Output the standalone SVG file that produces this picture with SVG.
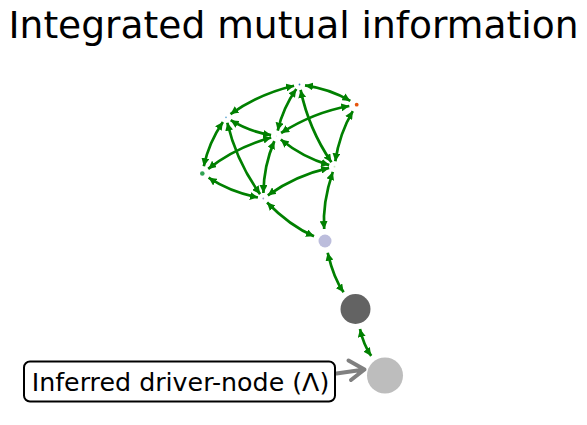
<svg xmlns="http://www.w3.org/2000/svg" width="587" height="425" viewBox="0 0 587 425">
<style>
.e{fill:none;stroke:#008000;stroke-width:2.7;marker-start:url(#ah);marker-end:url(#ah)}
.t{font-family:"DejaVu Sans",sans-serif;fill:#000}
</style>
<defs>
<marker id="ah" markerUnits="userSpaceOnUse" markerWidth="8" markerHeight="8" refX="7.5" refY="3.75" orient="auto-start-reverse" viewBox="0 0 7.5 7.5">
<path d="M0,0 L7.5,3.75 L0,7.5 z" fill="#008000"/>
</marker>
</defs>
<rect width="587" height="425" fill="#fff"/>
<text class="t" x="293.5" y="37.5" font-size="37.6" text-anchor="middle">Integrated mutual information</text>
<g id="connectors">
<path class="e" d="M350.3,100.9 Q330.1,88.9 305.0,85.3"/>
<path class="e" d="M349.3,106.0 Q313.5,112.3 281.1,133.0"/>
<path class="e" d="M352.8,111.1 Q339.4,133.5 335.3,161.3"/>
<path class="e" d="M294.1,85.7 Q259.5,93.6 230.5,114.1"/>
<path class="e" d="M296.3,89.0 Q282.9,108.0 277.7,130.6"/>
<path class="e" d="M300.6,89.9 Q308.8,129.1 331.4,162.2"/>
<path class="e" d="M230.7,120.2 Q249.4,131.7 271.1,135.1"/>
<path class="e" d="M222.9,121.9 Q208.5,143.0 203.8,166.2"/>
<path class="e" d="M227.3,122.7 Q236.5,161.6 260.1,194.1"/>
<path class="e" d="M271.2,137.5 Q235.7,147.3 208.2,168.9"/>
<path class="e" d="M280.8,139.5 Q302.4,157.2 329.2,165.1"/>
<path class="e" d="M274.3,141.1 Q263.7,165.9 263.4,193.0"/>
<path class="e" d="M208.6,177.7 Q230.3,192.1 257.9,197.5"/>
<path class="e" d="M329.1,167.9 Q295.7,175.5 267.8,195.3"/>
<path class="e" d="M332.8,171.9 Q322.3,202.9 324.2,229.0"/>
<path class="e" d="M267.1,202.5 Q289.9,225.9 314.0,236.3"/>
<path class="e" d="M327.7,252.7 Q333.5,278.1 343.6,292.3"/>
<path class="e" d="M360.0,329.0 Q363.6,345.2 371.2,355.9"/>
</g>
<g id="nodeA"><circle cx="299.5" cy="84.5" r="0.9" fill="#3182bd"/></g>
<g id="nodeB"><circle cx="356.7" cy="104.7" r="1.9" fill="#e6550d"/></g>
<g id="nodeC"><circle cx="226" cy="117.3" r="0.9" fill="#6baed6"/></g>
<g id="nodeD"><circle cx="276.5" cy="136" r="0.6" fill="#dadaeb"/></g>
<g id="nodeE"><circle cx="202.3" cy="173.5" r="2.3" fill="#31a354"/></g>
<g id="nodeF"><circle cx="334.5" cy="166.7" r="0.9" fill="#c7e9c0"/></g>
<g id="nodeG"><circle cx="263.3" cy="198.5" r="0.9" fill="#9e9ac8"/></g>
<g id="nodeH"><circle cx="325" cy="241" r="6.5" fill="#bcbddc"/></g>
<g id="nodeI"><circle cx="355.5" cy="309" r="15" fill="#636363"/></g>
<g id="nodeJ"><circle cx="385" cy="375.5" r="18" fill="#bdbdbd"/></g>
<g id="annotation">
<path d="M336.5,373.5 L364.5,369.5 M348.5,360.5 L364.5,369.5 L351,380" fill="none" stroke="#808080" stroke-width="4" stroke-linecap="round" stroke-linejoin="round"/>
<rect x="24" y="361.5" width="311" height="40" rx="6" ry="6" fill="#fff" stroke="#000" stroke-width="2"/>
<text class="t" x="180.5" y="391" font-size="25.3" text-anchor="middle">Inferred driver-node (Λ)</text>
</g>
</svg>
